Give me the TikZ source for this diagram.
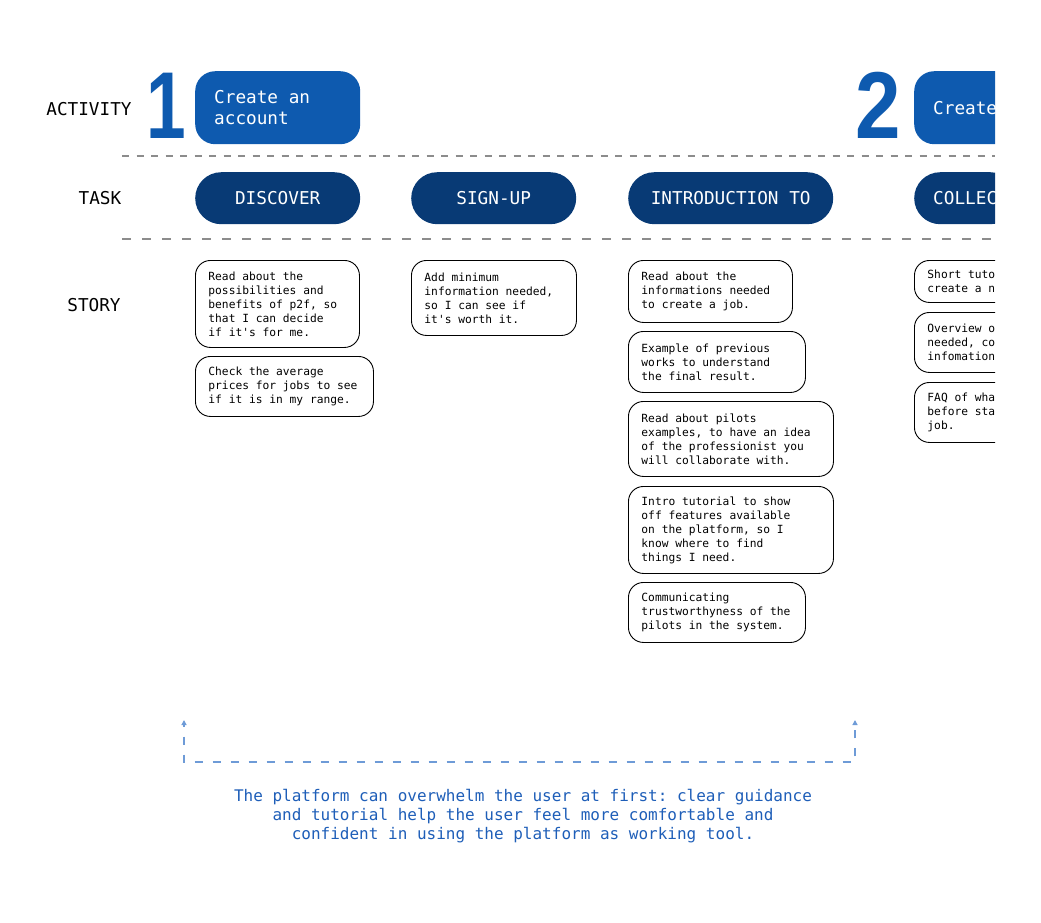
\documentclass[tikz,border=0pt]{standalone}
\usepackage{fontspec}
\setmonofont{DejaVu Sans Mono}
\newfontfamily\digitfont{Liberation Sans}
\usetikzlibrary{arrows.meta}

\definecolor{actblue}{RGB}{14,90,175}
\definecolor{tasknavy}{RGB}{8,58,117}
\definecolor{rowgray}{RGB}{140,140,140}
\definecolor{noteblue}{RGB}{30,94,184}
\definecolor{bracketblue}{RGB}{110,155,215}

\tikzset{
    rowlabel/.style={font=\ttfamily\fontsize{17.7}{21}\selectfont},
    bignum/.style={anchor=base, text=actblue, inner sep=0pt, font=\digitfont\bfseries\fontsize{95}{95}\selectfont},
    activity/.style={fill=actblue, text=white, rounded corners=20pt, minimum height=73pt, inner xsep=19pt,
        align=flush left, anchor=north west, font=\ttfamily\fontsize{17.7}{21}\selectfont},
    taskbox/.style={fill=tasknavy, text=white, rounded corners=26pt, minimum height=52pt, anchor=north west,
        font=\ttfamily\fontsize{17.7}{21}\selectfont},
    story/.style={draw=black, line width=0.9pt, rounded corners=15pt, text width=#1, inner xsep=13pt,
        inner ysep=0pt, align=flush left, anchor=north west, font=\ttfamily\fontsize{11.25}{14}\selectfont},
    rowline/.style={rowgray, line width=2pt},
}

\begin{document}
\begin{tikzpicture}[x=1pt, y=-1pt]
    \useasboundingbox (0,0) rectangle (1041,922);

    % row labels
    \node[rowlabel] (lact) at (89,109) {ACTIVITY};
    \node[rowlabel] (ltask) at (100,198) {TASK};
    \node[rowlabel] (lstory) at (94,305) {STORY};

    \begin{scope}
        \clip (0,0) rectangle (995,922);

        % activities
        \node[bignum] (n1) at (166.5,138) {\scalebox{0.75}[1]{1}};
        \node[activity, text width=127pt] (act1) at (195,71) {Create an\\account};
        \node[bignum] (n2) at (878.5,138) {\scalebox{0.86}[1]{2}};
        \node[activity] (act2) at (914,71) {Create};

        \draw[rowline, dash pattern=on 7pt off 7.5pt] (122,156) -- (995,156);

        % tasks
        \node[taskbox, minimum width=165pt] (t1) at (195,172) {DISCOVER};
        \node[taskbox, minimum width=165pt] (t2) at (411,172) {SIGN-UP};
        \node[taskbox, minimum width=205pt] (t3) at (628,172) {INTRODUCTION TO};
        \node[taskbox, minimum width=102pt] (t4) at (914,172) {COLLEC};

        \draw[rowline, dash pattern=on 8.5pt off 11.5pt] (122,239) -- (995,239);

        % stories
        \node[story=138pt, minimum height=87pt] (d1) at (195,260)
            {Read about the\\possibilities and\\benefits of p2f, so\\that I can decide\\if it's for me.};
        \node[story=152pt, minimum height=60pt] (d2) at (195,356)
            {Check the average\\prices for jobs to see\\if it is in my range.};

        \node[story=139pt, minimum height=75pt] (s1) at (411,260)
            {Add minimum\\information needed,\\so I can see if\\it's worth it.};

        \node[story=138pt, minimum height=62pt] (i1) at (628,260)
            {Read about the\\informations needed\\to create a job.};
        \node[story=151pt, minimum height=61pt] (i2) at (628,331)
            {Example of previous\\works to understand\\the final result.};
        \node[story=179pt, minimum height=75pt] (i3) at (628,401)
            {Read about pilots\\examples, to have an idea\\of the professionist you\\will collaborate with.};
        \node[story=179pt, minimum height=87pt] (i4) at (628,486)
            {Intro tutorial to show\\off features available\\on the platform, so I\\know where to find\\things I need.};
        \node[story=151pt, minimum height=60pt] (i5) at (628,582)
            {Communicating\\trustworthyness of the\\pilots in the system.};

        \node[story=150pt, minimum height=42pt] (c1) at (914,260)
            {Short tuto\\create a n};
        \node[story=150pt, minimum height=60pt] (c2) at (914,312)
            {Overview o\\needed, co\\infomation};
        \node[story=150pt, minimum height=60pt] (c3) at (914,382)
            {FAQ of wha\\before sta\\job.};
    \end{scope}

    % insight bracket
    \coordinate (bl) at (184,720);
    \coordinate (bb) at (184,762);
    \coordinate (br) at (855,762);
    \coordinate (bt) at (855,720);
    \draw[bracketblue, line width=1.5pt, dash pattern=on 8pt off 10pt, dash phase=6pt,
        {Triangle[width=5pt,length=5pt]}-{Triangle[width=5pt,length=5pt]}] (bl) -- (bb) -- (br) -- (bt);

    \node[text=noteblue, align=center, font=\ttfamily\fontsize{16}{19}\selectfont] (note) at (523,816)
        {The platform can overwhelm the user at first: clear guidance\\
         and tutorial help the user feel more comfortable and\\
         confident in using the platform as working tool.};
\end{tikzpicture}
\end{document}
